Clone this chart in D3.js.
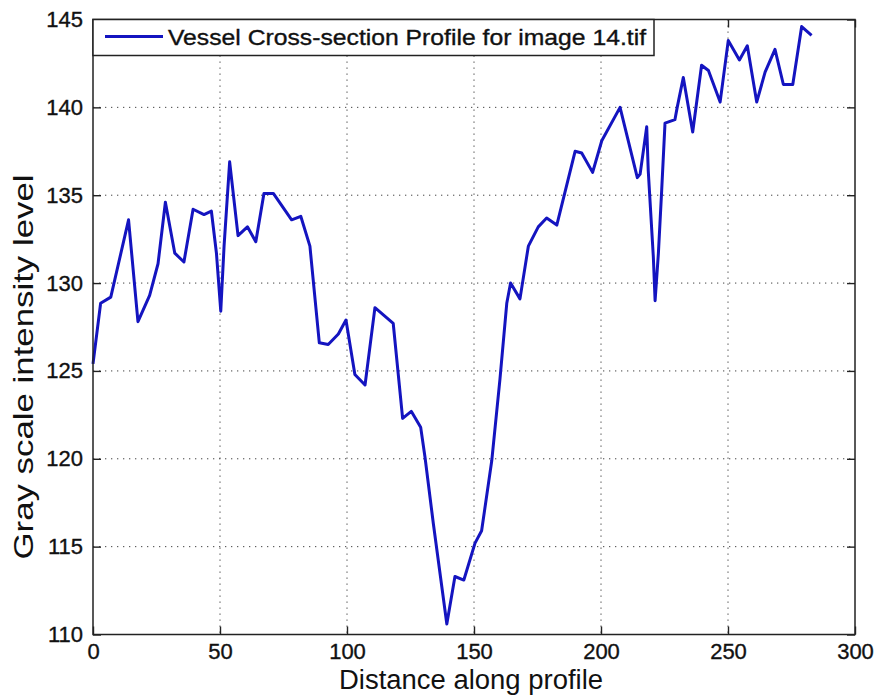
<!DOCTYPE html>
<html>
<head>
<meta charset="utf-8">
<script src="https://cdn.jsdelivr.net/npm/d3@7"></script>
<style>
  html, body { margin: 0; padding: 0; background: #fff; }
  svg { display: block; }
  text { font-family: "Liberation Sans", Arial, Helvetica, sans-serif; fill: #111; }
</style>
</head>
<body>
<svg id="chart" width="877" height="698"></svg>
<script>
// Profile samples: distance along the cross-section and gray level at that point
const distance = [
  0, 3, 7, 14, 17.7, 22.3, 25.6, 28.5, 32.2, 35.8, 39.4, 43.7, 46.6, 48.6, 50.3, 51.6,
  53.8, 57.1, 60.8, 64.1, 67.3, 71, 78.2, 81.8, 85.4, 89.1, 92.6, 96.6, 99.6, 103.1,
  107.1, 111, 118.2, 121.9, 125.3, 129, 130.7, 134, 139.3, 142.5, 146, 150.4, 153, 157,
  160.2, 162.9, 164.4, 168.1, 171.4, 175.3, 178.6, 182.6, 189.8, 192.4, 196.7, 200.3,
  207.5, 214.3, 215.4, 218, 218.6, 220.6, 221.3, 222.6, 223.9, 225.2, 229.1, 230, 232.4,
  236.1, 239.6, 242.3, 246.9, 250.1, 254.5, 257.6, 261.3, 264.6, 268.5, 271.8, 275.5,
  279, 282.9
];
const grayLevel = [
  125.4, 128.85, 129.2, 133.6, 127.8, 129.3, 131.1, 134.6, 131.7, 131.2, 134.2, 133.9, 134.1, 131.7, 128.4, 132.1,
  136.9, 132.7, 133.2, 132.35, 135.1, 135.1, 133.6, 133.8, 132.1, 126.6, 126.5, 127.1, 127.9, 124.8,
  124.2, 128.6, 127.7, 122.3, 122.7, 121.8, 120.1, 116.3, 110.6, 113.3, 113.1, 115.2, 115.9, 119.9,
  124.5, 128.85, 130, 129.1, 132.1, 133.2, 133.7, 133.3, 137.5, 137.4, 136.3, 138.1,
  140.0, 136.0, 136.2, 138.9, 136.4, 131.5, 129.0, 131.7, 135.3, 139.1, 139.3, 140.0, 141.7,
  138.6, 142.4, 142.1, 140.3, 143.8, 142.7, 143.5, 140.3, 142.0, 143.3, 141.3, 141.3,
  144.6, 144.1
];

const xTicks = [0, 50, 100, 150, 200, 250, 300];
const yTicks = [110, 115, 120, 125, 130, 135, 140, 145];
const seriesName = "Vessel Cross-section Profile for image 14.tif";
const xTitle = "Distance along profile";
const yTitle = "Gray scale intensity level";

const svg = d3.select("#chart");
const plot = { left: 93, right: 855, top: 19.5, bottom: 634.5 };
const lineColor = "#1414c0";

const x = d3.scaleLinear().domain([0, 300]).range([plot.left, plot.right]);
const y = d3.scaleLinear().domain([110, 145]).range([plot.bottom, plot.top]);

// dotted grid on the inner ticks
const grid = svg.append("g")
  .attr("stroke", "#444")
  .attr("stroke-width", 1)
  .attr("stroke-dasharray", "1.3,4.7");
grid.selectAll("line.gx")
  .data(xTicks.filter(d => d > 0 && d < 300))
  .join("line")
  .attr("x1", d => x(d)).attr("x2", d => x(d))
  .attr("y1", plot.top).attr("y2", plot.bottom);
grid.selectAll("line.gy")
  .data(yTicks.filter(d => d > 110 && d < 145))
  .join("line")
  .attr("x1", plot.left).attr("x2", plot.right)
  .attr("y1", d => y(d)).attr("y2", d => y(d));

// profile line
const line = d3.line()
  .x((d, i) => x(distance[i]))
  .y((d, i) => y(grayLevel[i]));
svg.append("path")
  .datum(grayLevel)
  .attr("fill", "none")
  .attr("stroke", lineColor)
  .attr("stroke-width", 3)
  .attr("stroke-linejoin", "round")
  .attr("d", line);

// axes with inward ticks on all four sides
const tickLen = 8;
const styleAxis = g => {
  g.select(".domain").remove();
  g.selectAll(".tick line").attr("stroke", "#222").attr("stroke-width", 1.4);
  g.selectAll(".tick text")
    .style("font-size", "22px")
    .attr("fill", "#111")
    .attr("stroke", "#111")
    .attr("stroke-width", 0.35);
};
svg.append("g")
  .attr("transform", `translate(0,${plot.bottom})`)
  .call(d3.axisBottom(x).tickValues(xTicks).tickSize(-tickLen).tickSizeOuter(0).tickPadding(9))
  .call(styleAxis);
svg.append("g")
  .attr("transform", `translate(${plot.left},0)`)
  .call(d3.axisLeft(y).tickValues(yTicks).tickSize(-tickLen).tickSizeOuter(0).tickPadding(10))
  .call(styleAxis);
svg.append("g")
  .attr("transform", `translate(0,${plot.top})`)
  .call(d3.axisTop(x).tickValues(xTicks).tickSize(-tickLen).tickSizeOuter(0).tickFormat(""))
  .call(styleAxis);
svg.append("g")
  .attr("transform", `translate(${plot.right},0)`)
  .call(d3.axisRight(y).tickValues(yTicks).tickSize(-tickLen).tickSizeOuter(0).tickFormat(""))
  .call(styleAxis);

// axes box
svg.append("rect")
  .attr("x", plot.left).attr("y", plot.top)
  .attr("width", plot.right - plot.left).attr("height", plot.bottom - plot.top)
  .attr("fill", "none").attr("stroke", "#222").attr("stroke-width", 1.5);

// legend
const legend = svg.append("g");
legend.append("rect")
  .attr("x", plot.left).attr("y", plot.top)
  .attr("width", 561).attr("height", 36)
  .attr("fill", "#fff").attr("stroke", "#222").attr("stroke-width", 1.5);
legend.append("line")
  .attr("x1", 105).attr("x2", 163)
  .attr("y1", 36.5).attr("y2", 36.5)
  .attr("stroke", lineColor).attr("stroke-width", 3);
legend.append("text")
  .attr("x", 168).attr("y", 45)
  .attr("textLength", 478)
  .attr("lengthAdjust", "spacingAndGlyphs")
  .attr("stroke", "#111").attr("stroke-width", 0.35)
  .style("font-size", "22px")
  .text(seriesName);

// axis titles
svg.append("text")
  .attr("x", 471).attr("y", 689)
  .attr("text-anchor", "middle")
  .attr("textLength", 264)
  .attr("lengthAdjust", "spacingAndGlyphs")
  .style("font-size", "27px")
  .text(xTitle);
svg.append("text")
  .attr("transform", "translate(33,367) rotate(-90)")
  .attr("text-anchor", "middle")
  .attr("textLength", 385)
  .attr("lengthAdjust", "spacingAndGlyphs")
  .style("font-size", "28px")
  .text(yTitle);
</script>
</body>
</html>
